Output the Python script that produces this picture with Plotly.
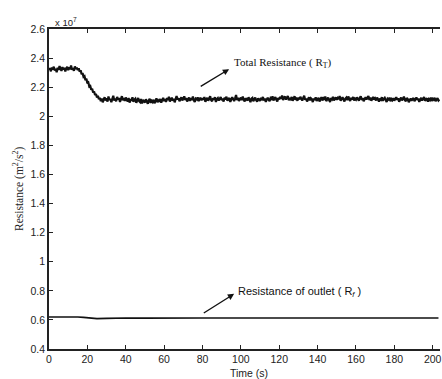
import plotly.graph_objects as go

total_resistance = [
    2.318, 2.331, 2.309, 2.336, 2.322, 2.341, 2.315, 2.327, 2.303, 2.334, 2.319, 2.345, 2.326, 2.312, 2.338, 2.321, 2.333, 2.308, 2.329, 2.340,
    2.317, 2.336, 2.324, 2.349, 2.320, 2.331, 2.313, 2.343, 2.326, 2.335, 2.318, 2.329, 2.306, 2.316, 2.289, 2.297, 2.271, 2.276, 2.248, 2.259,
    2.226, 2.232, 2.204, 2.208, 2.183, 2.190, 2.163, 2.170, 2.146, 2.153, 2.130, 2.141, 2.118, 2.127, 2.104, 2.122, 2.096, 2.115, 2.131, 2.108,
    2.124, 2.101, 2.136, 2.112, 2.119, 2.097, 2.128, 2.141, 2.109, 2.121, 2.103, 2.133, 2.115, 2.126, 2.098, 2.117, 2.138, 2.111, 2.124, 2.106,
    2.129, 2.113, 2.102, 2.125, 2.094, 2.118, 2.107, 2.131, 2.099, 2.115, 2.121, 2.093, 2.110, 2.126, 2.104, 2.097, 2.119, 2.088, 2.112, 2.101,
    2.095, 2.117, 2.103, 2.086, 2.109, 2.121, 2.092, 2.106, 2.098, 2.114, 2.089, 2.111, 2.123, 2.096, 2.108, 2.100, 2.119, 2.094, 2.113, 2.127,
    2.104, 2.118, 2.099, 2.125, 2.111, 2.134, 2.102, 2.116, 2.128, 2.107, 2.121, 2.096, 2.113, 2.139, 2.115, 2.124, 2.103, 2.119, 2.131, 2.108,
    2.122, 2.137, 2.112, 2.126, 2.101, 2.118, 2.129, 2.106, 2.124, 2.113, 2.135, 2.110, 2.098, 2.121, 2.116, 2.130, 2.104, 2.119, 2.127, 2.109,
    2.125, 2.114, 2.132, 2.100, 2.118, 2.127, 2.107, 2.121, 2.138, 2.112, 2.103, 2.124, 2.115, 2.131, 2.098, 2.119, 2.126, 2.108, 2.117, 2.133,
    2.110, 2.122, 2.101, 2.128, 2.116, 2.135, 2.107, 2.120, 2.126, 2.099, 2.114, 2.131, 2.118, 2.104, 2.123, 2.146, 2.112, 2.127, 2.105, 2.119,
    2.128, 2.111, 2.136, 2.115, 2.102, 2.124, 2.119, 2.108, 2.131, 2.113, 2.097, 2.121, 2.126, 2.104, 2.117, 2.129, 2.110, 2.101, 2.123, 2.114,
    2.106, 2.127, 2.118, 2.133, 2.109, 2.121, 2.099, 2.116, 2.128, 2.112, 2.104, 2.125, 2.119, 2.137, 2.108, 2.122, 2.131, 2.114, 2.102, 2.126,
    2.117, 2.134, 2.121, 2.143, 2.112, 2.128, 2.136, 2.115, 2.124, 2.139, 2.110, 2.127, 2.118, 2.132, 2.106, 2.125, 2.138, 2.113, 2.121, 2.107,
    2.129, 2.116, 2.134, 2.120, 2.108, 2.127, 2.141, 2.113, 2.122, 2.102, 2.119, 2.131, 2.109, 2.124, 2.117, 2.098, 2.121, 2.112, 2.130, 2.106,
    2.118, 2.127, 2.101, 2.115, 2.132, 2.109, 2.123, 2.114, 2.136, 2.104, 2.120, 2.128, 2.111, 2.099, 2.125, 2.117, 2.134, 2.108, 2.121, 2.130,
    2.113, 2.126, 2.118, 2.139, 2.107, 2.124, 2.131, 2.115, 2.102, 2.122, 2.129, 2.111, 2.136, 2.119, 2.105, 2.127, 2.116, 2.133, 2.109, 2.121,
    2.114, 2.130, 2.122, 2.108, 2.127, 2.137, 2.112, 2.125, 2.104, 2.119, 2.131, 2.116, 2.124, 2.140, 2.111, 2.128, 2.107, 2.120, 2.133, 2.115,
    2.123, 2.109, 2.129, 2.117, 2.101, 2.122, 2.114, 2.131, 2.106, 2.119, 2.127, 2.112, 2.098, 2.121, 2.115, 2.128, 2.103, 2.118, 2.110, 2.125,
    2.107, 2.120, 2.131, 2.113, 2.124, 2.100, 2.116, 2.129, 2.109, 2.122, 2.135, 2.111, 2.104, 2.126, 2.118, 2.097, 2.114, 2.123, 2.108, 2.119,
    2.126, 2.103, 2.117, 2.130, 2.112, 2.121, 2.099, 2.115, 2.127, 2.108, 2.119, 2.132, 2.106, 2.113, 2.124, 2.101, 2.118, 2.111, 2.129, 2.105,
    2.120, 2.114, 2.127, 2.103, 2.118, 2.125, 2.109, 2.116,
]
# Time axis (s), one sample every 0.5 s
time_s = [i * 0.5 for i in range(len(total_resistance))]

# Outlet resistance R_f (units of 1e7 m^2/s^2)
outlet_time_s = [0, 5, 10, 15, 18, 20, 25, 30, 35, 40, 50, 60, 80, 100, 120, 140, 160, 180, 200, 203]
outlet_resistance = [0.620, 0.621, 0.620, 0.620, 0.618, 0.614, 0.609, 0.610, 0.612, 0.613,
                     0.612, 0.614, 0.613, 0.613, 0.614, 0.612, 0.613, 0.614, 0.613, 0.613]

y_ticks = [0.4, 0.6, 0.8, 1.0, 1.2, 1.4, 1.6, 1.8, 2.0, 2.2, 2.4, 2.6]
y_tick_labels = ["0.4", "0.6", "0.8", "1", "1.2", "1.4", "1.6", "1.8", "2", "2.2", "2.4", "2.6"]
x_ticks = [0, 20, 40, 60, 80, 100, 120, 140, 160, 180, 200]
x_tick_labels = ["0", "20", "40", "60", "80", "100", "120", "140", "160", "180", "200"]

sans = "Liberation Sans, Arial, sans-serif"
serif = "Liberation Serif, Times New Roman, serif"

fig = go.Figure()
fig.add_trace(go.Scatter(x=time_s, y=total_resistance, mode="lines",
                         line=dict(color="#111111", width=2.2), showlegend=False))
fig.add_trace(go.Scatter(x=outlet_time_s, y=outlet_resistance, mode="lines",
                         line=dict(color="#111111", width=1.7), showlegend=False))

axis_common = dict(showgrid=False, zeroline=False, showline=True, linecolor="#222222",
                   linewidth=1.6, ticks="inside", ticklen=4, tickwidth=1.2, tickcolor="#222222",
                   tickfont=dict(family=sans, size=10.5, color="#222222"))

fig.update_xaxes(range=[0, 203.8], tickvals=x_ticks, ticktext=x_tick_labels,
                 mirror="ticks", ticklabeloverflow="allow", **axis_common)
fig.update_yaxes(range=[0.4, 2.6], tickvals=y_ticks, ticktext=y_tick_labels,
                 **axis_common)

annotations = [
    # x 10^7 multiplier
    dict(xref="paper", yref="paper", x=0.0, y=1.0, xanchor="left", yanchor="bottom",
         yshift=-1, xshift=4, text="x 10<sup>7</sup>", showarrow=False,
         font=dict(family=sans, size=9.5, color="#222222")),
    # axis titles
    dict(xref="x", yref="paper", x=104.5, y=0, xanchor="center", yanchor="top",
         yshift=-16, text="Time (s)", showarrow=False,
         font=dict(family=sans, size=10.5, color="#222222")),
    dict(xref="paper", yref="paper", x=0, y=0.5, xanchor="center", yanchor="middle",
         xshift=-31, textangle=-90, text="Resistance (m<sup>2</sup>/s<sup>2</sup>)",
         showarrow=False, font=dict(family=serif, size=11.5, color="#222222")),
    # arrows
    dict(x=93.9, y=2.324, ax=78.3, ay=2.2, xref="x", yref="y", axref="x", ayref="y",
         text="", showarrow=True, arrowhead=2, arrowsize=0.9, arrowwidth=1.4, arrowcolor="#111111"),
    dict(x=96.5, y=0.779, ax=79.9, ay=0.641, xref="x", yref="y", axref="x", ayref="y",
         text="", showarrow=True, arrowhead=2, arrowsize=0.9, arrowwidth=1.4, arrowcolor="#111111"),
    # labels
    dict(x=95.4, y=2.366, xref="x", yref="y", xanchor="left", yanchor="middle",
         text="Total Resistance ( R<sub>T</sub>)", showarrow=False,
         font=dict(family=serif, size=11, color="#111111")),
    dict(x=97.5, y=0.793, xref="x", yref="y", xanchor="left", yanchor="middle",
         text="Resistance of outlet ( R<sub><i>f</i></sub> )", showarrow=False,
         font=dict(family=sans, size=11, color="#111111")),
]

fig.update_layout(width=442, height=379, margin=dict(l=49, r=0, t=29, b=30),
                  paper_bgcolor="white", plot_bgcolor="white", annotations=annotations)

fig.write_html("out.html", config={"displayModeBar": False},
               post_script="document.body.style.margin='0';document.body.style.overflow='hidden';")
